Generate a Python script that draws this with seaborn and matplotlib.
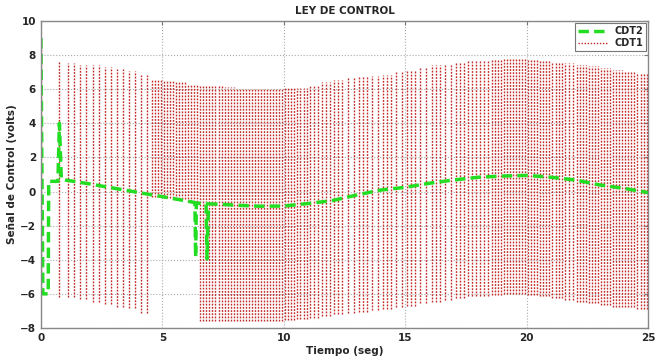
import numpy as np
import pandas as pd
import matplotlib
matplotlib.use("Agg")
import matplotlib.pyplot as plt
from matplotlib.lines import Line2D
import seaborn as sns

# CDT2 control signal (green dashed)
cdt2_t = [0.0, 0.08, 0.30, 0.32, 0.70, 0.76, 0.84, 1.0, 2.0, 3.0, 4.0, 5.0, 6.0, 6.34,
          6.37, 6.40, 6.80, 6.84, 6.90, 7.5, 8.0, 9.0, 10.0, 11.0, 12.0, 13.0, 14.0,
          15.0, 16.0, 17.0, 18.0, 19.0, 20.0, 21.0, 22.0, 23.0, 24.0, 25.0]
cdt2_u = [9.0, -6.0, -6.0, 0.6, 0.6, 4.0, 0.75, 0.68, 0.45, 0.2, -0.05, -0.3, -0.55, -0.65,
          -3.85, -0.68, -0.7, -3.95, -0.72, -0.75, -0.8, -0.86, -0.85, -0.7, -0.53, -0.2, 0.09,
          0.25, 0.49, 0.68, 0.84, 0.91, 0.95, 0.84, 0.68, 0.39, 0.19, -0.06]

# CDT1 chattering signal: start segment, then per 0.5 s bin upper/lower level and line count
cdt1_start_t = [0.02]
cdt1_start_lo = [-6.0]
cdt1_start_hi = [9.0]

bin_start = [0.5, 1.0, 1.5, 2.0, 2.5, 3.0, 3.5, 4.0, 4.5, 5.0, 5.5, 6.0, 6.5, 7.0, 7.5,
             8.0, 8.5, 9.0, 9.5, 10.0, 10.5, 11.0, 11.5, 12.0, 12.5, 13.0, 13.5, 14.0,
             14.5, 15.0, 15.5, 16.0, 16.5, 17.0, 17.5, 18.0, 18.5, 19.0, 19.5, 20.0,
             20.5, 21.0, 21.5, 22.0, 22.5, 23.0, 23.5, 24.0, 24.5]
cdt1_hi = [7.6, 7.55, 7.45, 7.4, 7.3, 7.2, 7.05, 6.85, 6.6, 6.5, 6.4, 6.3, 6.25, 6.2, 6.15,
           6.1, 6.05, 6.0, 6.05, 6.05, 6.1, 6.2, 6.4, 6.55, 6.65, 6.7, 6.8, 6.85,
           7.0, 7.15, 7.3, 7.4, 7.5, 7.6, 7.65, 7.7, 7.75, 7.78, 7.78, 7.75,
           7.65, 7.6, 7.55, 7.45, 7.35, 7.25, 7.15, 7.05, 6.9]
cdt1_lo = [-6.2, -6.2, -6.3, -6.45, -6.6, -6.75, -6.85, -7.1, -0.3, -0.35, -0.45, -0.6, -7.6, -7.6, -7.6,
           -7.6, -7.6, -7.6, -7.6, -7.55, -7.5, -7.4, -7.3, -7.2, -7.1, -7.05, -6.95, -6.9,
           -6.8, -6.7, -6.55, -6.45, -6.35, -6.25, -6.15, -6.1, -6.05, -6.0, -6.0, -6.05,
           -6.15, -6.25, -6.35, -6.45, -6.55, -6.65, -6.75, -6.8, -6.9]
cdt1_count = [1, 2, 2, 2, 2, 2, 2, 2, 4, 4, 4, 4, 4, 4, 4,
              4, 4, 4, 4, 4, 4, 3, 3, 3, 2, 3, 2, 3,
              2, 3, 2, 3, 2, 3, 3, 3, 4, 4, 4, 4,
              4, 4, 3, 4, 4, 4, 4, 4, 4]

sns.set_style("white")
plt.rcParams['font.family'] = ['DejaVu Sans']

fig, ax = plt.subplots(figsize=(6.6, 3.58), dpi=100)
fig.subplots_adjust(left=0.062, right=0.982, top=0.941, bottom=0.084)

red = "#c42a2a"
green = "#22dd22"
red_style = (0, (1.3, 1.0))

# red chattering lines
xs, lows, highs = list(cdt1_start_t), list(cdt1_start_lo), list(cdt1_start_hi)
for b, hi, lo, n in zip(bin_start, cdt1_hi, cdt1_lo, cdt1_count):
    for k in range(n):
        xs.append(b + (k + 0.5) * 0.5 / n)
        lows.append(lo)
        highs.append(hi)
ax.vlines(xs, lows, highs, colors=red, linestyles=red_style, linewidth=1.0)

df = pd.DataFrame({"t": cdt2_t, "u": cdt2_u})
sns.lineplot(data=df, x="t", y="u", ax=ax, color=green, linewidth=2.5,
             estimator=None, sort=False)
ax.lines[-1].set_dashes((3, 1.5))

ax.set_xlim(0, 25)
ax.set_ylim(-8, 10)
ax.set_xticks([0, 5, 10, 15, 20, 25])
ax.set_yticks([-8, -6, -4, -2, 0, 2, 4, 6, 8, 10])
ax.grid(True, linestyle=":", color="#aaaaaa", linewidth=0.8)
ax.tick_params(direction="in", top=True, right=True, length=3, labelsize=7.5, color="#777777")
for lab in ax.get_xticklabels() + ax.get_yticklabels():
    lab.set_fontweight("bold")
for sp in ax.spines.values():
    sp.set_color("#888888")
    sp.set_linewidth(1.0)

ax.set_title("LEY DE CONTROL", fontsize=7.5, fontweight="bold", pad=5)
ax.set_xlabel("Tiempo (seg)", fontsize=7.5, fontweight="bold", labelpad=2)
ax.set_ylabel("Señal de Control (volts)", fontsize=7.5, fontweight="bold", labelpad=2)

handles = [Line2D([], [], color=green, linewidth=2.5, dashes=(3, 1.5)),
           Line2D([], [], color=red, linewidth=1.0, linestyle=(0, (1, 1.2)))]
leg = ax.legend(handles, ["CDT2", "CDT1"], loc="upper right", frameon=True,
                fancybox=False, handlelength=3, borderpad=0.3, labelspacing=0.2,
                borderaxespad=0.2, prop={"weight": "bold", "size": 7})
leg.get_frame().set_edgecolor("#555555")
leg.get_frame().set_linewidth(0.8)

plt.savefig("out.png", dpi=100)
